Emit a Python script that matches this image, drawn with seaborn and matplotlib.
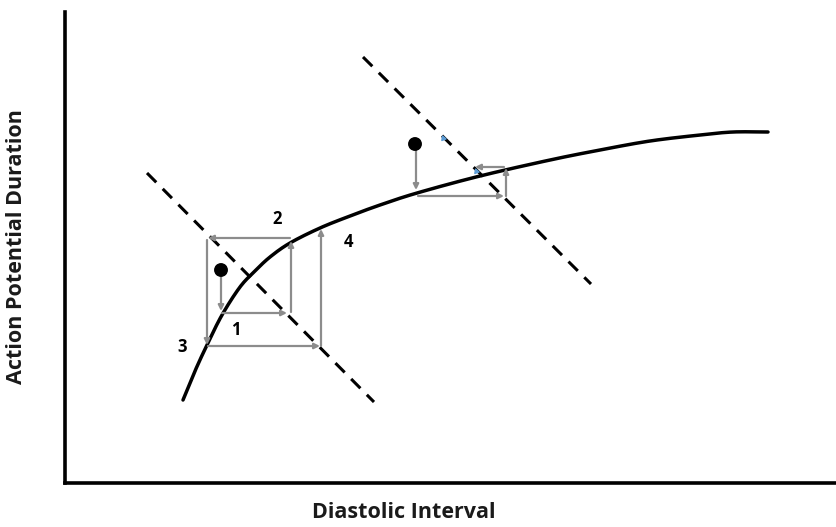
import matplotlib
matplotlib.use("Agg")
import matplotlib.pyplot as plt
import seaborn as sns
import numpy as np
import pandas as pd

# Restitution curve: diastolic interval (x) vs action potential duration (y), pixel-style units
curve_x = [183, 195, 207, 222, 240, 255, 270, 290, 320, 350, 380, 417, 480, 550, 600, 650, 700, 733, 768]
curve_y = [400, 371, 345, 315, 287, 271, 257, 243, 228, 216, 205, 193, 176, 160, 150, 141, 135, 132, 132]

# Dashed lines (pacing cycle length constraint)
dash1_x = [147, 374]
dash1_y = [173, 402]
dash2_x = [363, 591]
dash2_y = [57, 284]

# Starting points
dot_x = [221, 415]
dot_y = [270, 144]

# Cobweb steps: (x0, y0, x1, y1)
steps_x0 = [221, 222, 291, 290, 207, 208, 321, 416, 418, 506, 504]
steps_y0 = [277, 313, 312, 238, 240, 346, 346, 150, 196, 196, 167]
steps_x1 = [221, 287, 291, 208, 207, 320, 321, 416, 504, 506, 475]
steps_y1 = [311, 313, 241, 238, 345, 346, 229, 190, 196, 168, 167]

# Step numbers
num_text = ["1", "2", "3", "4"]
num_x = [236, 277, 182, 348]
num_y = [330, 219, 347, 242]


def catmull_rom(xs, ys, n=20):
    """Smooth path through the given knots (uniform Catmull-Rom)."""
    p = np.column_stack([xs, ys]).astype(float)
    p = np.vstack([2 * p[0] - p[1], p, 2 * p[-1] - p[-2]])
    out = []
    t = np.linspace(0, 1, n, endpoint=False)[:, None]
    for i in range(1, len(p) - 2):
        p0, p1, p2, p3 = p[i - 1], p[i], p[i + 1], p[i + 2]
        seg = 0.5 * ((2 * p1) + (-p0 + p2) * t + (2 * p0 - 5 * p1 + 4 * p2 - p3) * t ** 2
                     + (-p0 + 3 * p1 - 3 * p2 + p3) * t ** 3)
        out.append(seg)
    out.append(p[-2][None, :])
    return np.vstack(out)


sns.set_theme(style="white")
plt.rcParams["font.family"] = ["Open Sans", "DejaVu Sans"]

W, H = 836, 527
fig = plt.figure(figsize=(W / 100, H / 100), dpi=100)
left, right, top, bottom = 65, 836, 12, 483
ax = fig.add_axes([left / W, (H - bottom) / H, (right - left) / W, (bottom - top) / H])
ax.set_xlim(left, right)
ax.set_ylim(bottom, top)

smooth = catmull_rom(curve_x, curve_y)
curve = pd.DataFrame({"di": smooth[:, 0], "apd": smooth[:, 1]})
sns.lineplot(data=curve, x="di", y="apd", sort=False, color="black", lw=2.5, ax=ax)

for xs, ys in [(dash1_x, dash1_y), (dash2_x, dash2_y)]:
    ax.plot(xs, ys, color="black", lw=2.2, linestyle=(0, (4.3, 3.0)), solid_capstyle="butt")

for x0, y0, x1, y1 in zip(steps_x0, steps_y0, steps_x1, steps_y1):
    ax.annotate("", xy=(x1, y1), xytext=(x0, y0),
                arrowprops=dict(arrowstyle="-|>", color="#8c8c8c", lw=1.6,
                                mutation_scale=8, shrinkA=0, shrinkB=0))

dots = pd.DataFrame({"x": dot_x, "y": dot_y})
sns.scatterplot(data=dots, x="x", y="y", color="black", s=100, edgecolor="none", ax=ax, zorder=5)

# Small blue tick marks on the upper dashed line
ax.scatter([443, 476], [138, 171], marker=(3, 0, 20), s=14, color="#5b9bd5", zorder=4)

for t, x, y in zip(num_text, num_x, num_y):
    ax.text(x, y, t, fontsize=12, fontweight="bold", ha="center", va="center", color="black")

for side in ["top", "right"]:
    ax.spines[side].set_visible(False)
for side in ["left", "bottom"]:
    ax.spines[side].set_color("black")
    ax.spines[side].set_linewidth(2.6)
ax.set_xticks([])
ax.set_yticks([])

ax.set_xlabel("Diastolic Interval", fontsize=15.5, fontweight="bold", color="#1a1a1a")
ax.set_ylabel("Action Potential Duration", fontsize=15.5, fontweight="bold", color="#1a1a1a")
ax.xaxis.set_label_coords((404 - left) / (right - left), -(513 - bottom) / (bottom - top), transform=ax.transAxes)
ax.yaxis.set_label_coords(-(65 - 17) / (right - left), (bottom - 247) / (bottom - top), transform=ax.transAxes)
ax.xaxis.label.set_va("center")
ax.yaxis.label.set_va("center")

fig.savefig("out.png", dpi=100)
